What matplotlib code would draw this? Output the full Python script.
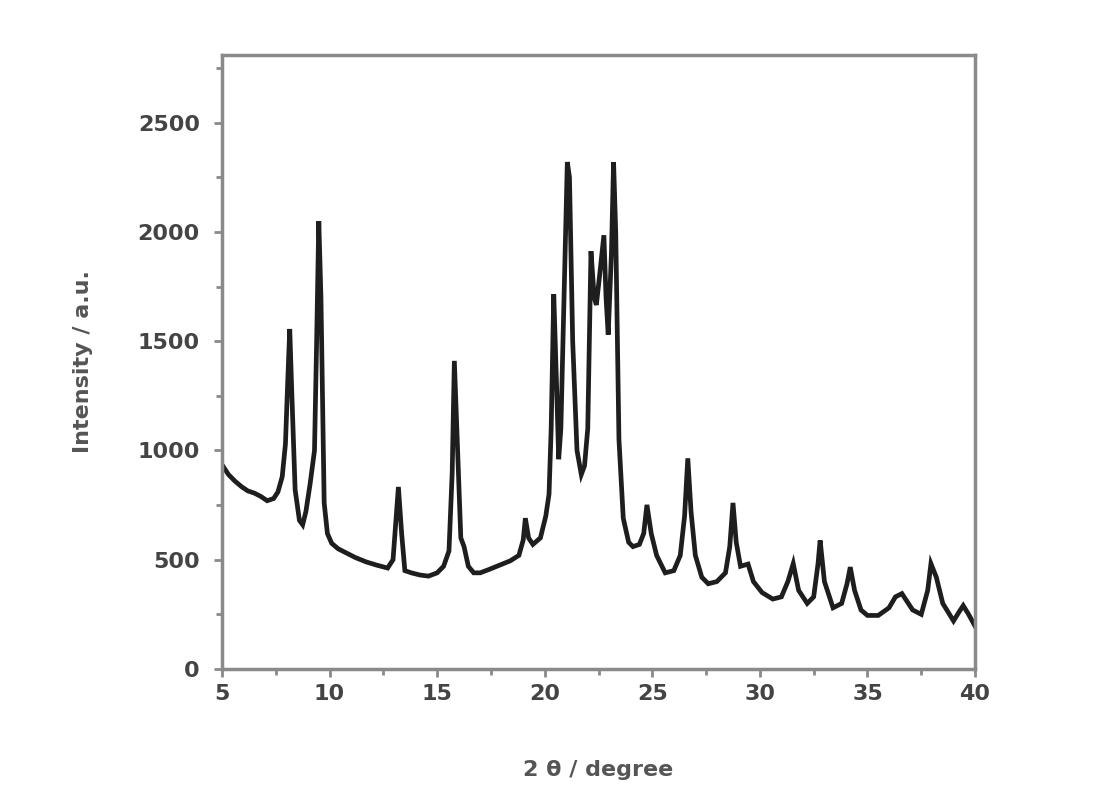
import numpy as np
import matplotlib.pyplot as plt

# XRD pattern (2theta in degrees, intensity in a.u.)
two_theta = [5.0, 5.3, 5.6, 5.9, 6.2, 6.5, 6.8, 7.1, 7.4, 7.6, 7.8, 7.95, 8.05, 8.15, 8.25,
             8.4, 8.6, 8.75, 8.9, 9.1, 9.3, 9.4, 9.5, 9.6, 9.75, 9.9, 10.1, 10.4, 10.8,
             11.2, 11.7, 12.2, 12.7, 12.95, 13.1, 13.2, 13.35, 13.5, 13.8, 14.2, 14.6,
             15.0, 15.3, 15.55, 15.7, 15.8, 15.95, 16.1, 16.25, 16.45, 16.7, 17.0, 17.4,
             17.9, 18.4, 18.8, 19.0, 19.1, 19.25, 19.45, 19.8, 20.05, 20.2, 20.3, 20.42,
             20.55, 20.65, 20.75, 20.9, 21.05, 21.15, 21.3, 21.5, 21.7, 21.85, 22.0,
             22.15, 22.3, 22.4, 22.55, 22.75, 22.85, 22.95, 23.1, 23.2, 23.3, 23.45,
             23.65, 23.9, 24.1, 24.4, 24.6, 24.75, 24.95, 25.2, 25.6, 26.0, 26.3, 26.5,
             26.65, 26.8, 27.0, 27.3, 27.6, 28.0, 28.4, 28.6, 28.75, 28.9, 29.1, 29.45,
             29.7, 30.1, 30.6, 31.0, 31.3, 31.55, 31.8, 32.2, 32.5, 32.7, 32.8, 33.0,
             33.4, 33.8, 34.05, 34.2, 34.4, 34.7, 35.0, 35.5, 36.0, 36.3, 36.6, 37.1,
             37.5, 37.8, 37.95, 38.2, 38.5, 39.0, 39.25, 39.45, 39.7, 40.0]
intensity = [935, 890, 860, 835, 815, 805, 790, 770, 780, 810, 880, 1030, 1300, 1556, 1250,
             820, 680, 660, 720, 850, 1000, 1500, 2050, 1700, 760, 620, 575, 550, 530,
             510, 490, 475, 462, 500, 700, 833, 620, 450, 440, 430, 425,
             440, 470, 540, 900, 1410, 1000, 600, 560, 470, 440, 440, 455,
             475, 495, 520, 590, 690, 600, 570, 600, 700, 800, 1100, 1715,
             1300, 960, 1100, 1700, 2320, 2250, 1500, 1000, 890, 930, 1100,
             1912, 1700, 1666, 1800, 1985, 1700, 1530, 1900, 2320, 2000, 1050,
             690, 580, 560, 570, 620, 751, 620, 520, 440, 450, 520, 700,
             964, 720, 520, 420, 390, 400, 440, 560, 760, 580, 470, 480,
             400, 350, 320, 330, 400, 482, 360, 300, 330, 480, 588, 400,
             280, 300, 390, 466, 360, 270, 245, 245, 280, 330, 345, 270,
             250, 360, 482, 420, 300, 220, 260, 290, 250, 196]

x_ticks = [5, 10, 15, 20, 25, 30, 35, 40]
y_ticks = [0, 500, 1000, 1500, 2000, 2500]

fig = plt.figure(figsize=(11.06, 8.06), dpi=100)
ax = fig.add_axes([0.2007, 0.17, 0.6809, 0.7618])

ax.plot(two_theta, intensity, color='#1e1e1e', lw=3.4, solid_joinstyle='miter')

ax.set_xlim(5, 40)
ax.set_ylim(0, 2810)
ax.set_xticks(x_ticks)
ax.set_yticks(y_ticks)
ax.set_xticks(np.arange(7.5, 40, 5), minor=True)
ax.set_yticks(np.arange(250, 2800, 500), minor=True)

frame_col = '#8a8a8a'
for s in ax.spines.values():
    s.set_color(frame_col)
    s.set_linewidth(2.5)
ax.tick_params(which='both', direction='out', color=frame_col, width=2)
ax.tick_params(which='major', length=6)
ax.tick_params(which='minor', length=4)
ax.tick_params(axis='both', labelsize=16, labelcolor='#444444')
ax.tick_params(axis='y', pad=10)
ax.tick_params(axis='x', pad=5)
for lab in ax.get_xticklabels() + ax.get_yticklabels():
    lab.set_fontweight('bold')

ax.set_xlabel('2 θ / degree', fontsize=16, fontweight='bold', color='#555555', labelpad=40)
ax.set_ylabel('Intensity / a.u.', fontsize=16, fontweight='bold', color='#555555', labelpad=32)

fig.savefig('out.png', dpi=100)
